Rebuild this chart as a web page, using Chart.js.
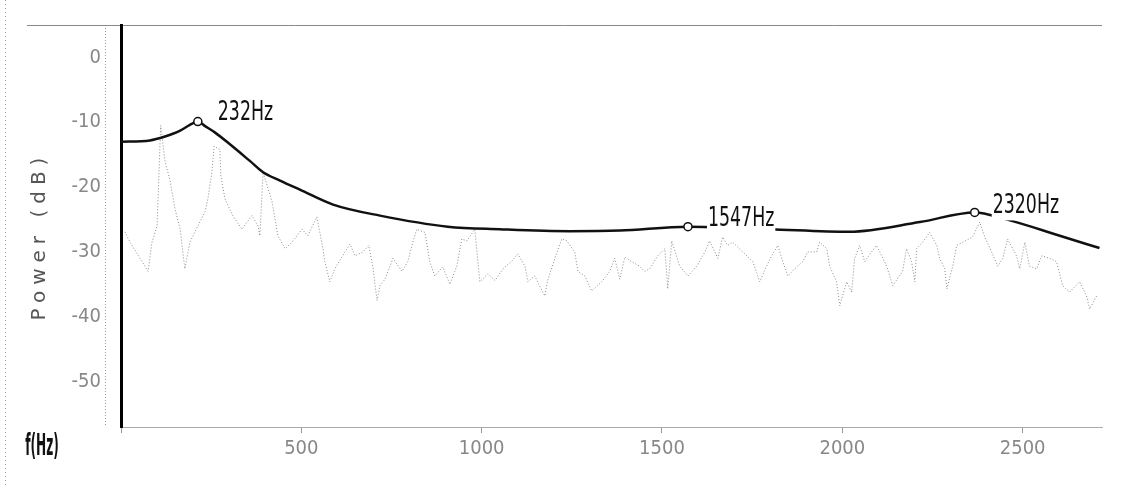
<!DOCTYPE html>
<html>
<head>
<meta charset="utf-8">
<script src="https://cdn.jsdelivr.net/npm/chart.js@4"></script>
<style>
  html, body { margin: 0; padding: 0; background: #fff; }
  #wrap { width: 1125px; height: 486px; position: relative; }
</style>
</head>
<body>
<div id="wrap"><canvas id="spectrum"></canvas></div>
<script>
// envelope (black curve) - frequency in Hz, power in dB
const envelopeHz = [0, 80, 122, 164, 191, 213, 233, 261, 302, 358, 394, 441, 496, 588, 718, 906, 1050, 1244, 1383, 1572, 1799, 2020, 2215, 2367, 2450, 2603, 2713];
const envelopeDb = [-13.0, -12.8, -12.2, -11.3, -10.4, -9.9, -10.6, -11.6, -13.4, -16.0, -17.7, -19.0, -20.4, -22.7, -24.4, -26.1, -26.5, -26.8, -26.7, -26.1, -26.5, -26.9, -25.4, -23.9, -24.9, -27.5, -29.4];

// marked peaks on the envelope
const peakHz = [213, 1572, 2367];
const peakDb = [-9.9, -26.1, -23.9];
const peakLabels = ['232Hz', '1547Hz', '2320Hz'];

// raw spectrum (grey dotted trace)
const noiseHz = [
  11, 25, 53, 75, 86, 100, 110, 122, 136, 150,
  164, 177, 191, 213, 233, 241, 252, 258, 274, 277,
  288, 310, 335, 363, 380, 385, 394, 419, 435, 455,
  474, 502, 518, 543, 560, 565, 579, 593, 621, 635,
  649, 671, 687, 698, 710, 718, 732, 754, 779, 795,
  809, 820, 843, 856, 870, 892, 912, 931, 945, 959,
  981, 987, 995, 1017, 1037, 1059, 1084, 1100, 1120, 1128,
  1147, 1175, 1183, 1203, 1222, 1236, 1258, 1267, 1286, 1305,
  1333, 1355, 1369, 1383, 1397, 1416, 1438, 1452, 1466, 1488,
  1508, 1516, 1527, 1549, 1572, 1596, 1619, 1632, 1655, 1668,
  1682, 1696, 1724, 1752, 1771, 1790, 1804, 1821, 1835, 1849,
  1868, 1890, 1904, 1929, 1937, 1957, 1965, 1984, 1993, 2012,
  2026, 2034, 2048, 2062, 2081, 2095, 2123, 2140, 2167, 2178,
  2192, 2201, 2206, 2223, 2242, 2262, 2270, 2284, 2290, 2306,
  2317, 2334, 2361, 2381, 2395, 2414, 2431, 2445, 2458, 2483,
  2492, 2506, 2519, 2539, 2553, 2575, 2594, 2611, 2630, 2658,
  2677, 2686, 2705
];
const noiseDb = [
  -26.9, -28.5, -31.0, -33.0, -28.5, -26.0, -10.5, -16.0, -19.0, -23.4,
  -26.5, -32.6, -28.5, -26.0, -23.8, -21.8, -17.7, -13.7, -14.2, -18.3,
  -21.8, -24.4, -26.5, -24.4, -26.0, -27.5, -17.7, -22.3, -27.5, -29.5,
  -28.5, -26.5, -27.5, -24.6, -29.5, -31.5, -34.6, -32.6, -30.0, -28.8,
  -30.6, -30.0, -29.0, -32.2, -37.5, -35.2, -34.2, -31.0, -33.0, -31.5,
  -28.5, -26.5, -27.0, -31.5, -33.7, -32.3, -35.0, -32.2, -28.0, -28.3,
  -26.5, -30.0, -34.6, -33.4, -34.4, -32.6, -31.4, -30.3, -32.2, -34.6,
  -33.7, -36.8, -34.4, -31.0, -28.0, -28.3, -30.0, -33.0, -33.7, -36.0,
  -34.6, -33.0, -31.0, -34.2, -30.8, -31.5, -32.2, -33.0, -32.6, -30.6,
  -29.5, -35.7, -28.3, -32.2, -33.7, -32.2, -30.0, -28.3, -31.0, -27.7,
  -29.0, -28.5, -30.0, -31.5, -34.6, -32.2, -30.6, -29.0, -31.5, -33.7,
  -32.6, -31.5, -30.0, -30.0, -28.5, -29.5, -32.2, -34.6, -38.3, -34.6,
  -36.2, -31.0, -29.0, -31.5, -30.0, -29.0, -32.2, -35.2, -33.0, -29.5,
  -31.5, -34.6, -29.5, -28.5, -27.0, -29.0, -31.0, -32.6, -35.7, -32.2,
  -29.0, -28.5, -27.7, -25.4, -27.7, -30.0, -32.2, -31.0, -28.0, -30.6,
  -32.6, -28.5, -32.2, -32.6, -30.6, -31.0, -31.5, -35.2, -36.2, -34.6,
  -36.8, -38.8, -36.8
];

// axis ranges and tick values
const xMin = 0, xMax = 2720;
const xTicks = [0, 500, 1000, 1500, 2000, 2500];
const yMin = -57, yMax = 5;
const yTicks = [-50, -40, -30, -20, -10, 0];

const narrow = '"Liberation Sans Narrow", "DejaVu Sans Condensed", sans-serif';
const tickFont = { family: narrow, size: 20 };

// frame lines, axis titles and peak labels
const decorations = {
  id: 'decorations',
  beforeDraw(chart) {
    const ctx = chart.ctx;
    const area = chart.chartArea;
    ctx.save();
    ctx.strokeStyle = '#9a9a9a';
    ctx.lineWidth = 1;
    ctx.setLineDash([1, 3]);
    ctx.beginPath();
    ctx.moveTo(5.5, 0);
    ctx.lineTo(5.5, chart.height);
    ctx.stroke();
    ctx.setLineDash([1, 2]);
    ctx.beginPath();
    ctx.moveTo(105.5, area.top);
    ctx.lineTo(105.5, area.bottom);
    ctx.stroke();
    ctx.setLineDash([]);
    ctx.strokeStyle = '#8a8a8a';
    ctx.beginPath();
    ctx.moveTo(27, area.top + 0.5);
    ctx.lineTo(area.right, area.top + 0.5);
    ctx.stroke();

    // y title
    ctx.translate(40, 236);
    ctx.rotate(-Math.PI / 2);
    ctx.font = '20px "DejaVu Sans", sans-serif';
    ctx.letterSpacing = '6px';
    ctx.fillStyle = '#555';
    ctx.textAlign = 'center';
    ctx.textBaseline = 'middle';
    ctx.fillText('Power (dB)', 0, 0);
    ctx.restore();

    // x title
    ctx.save();
    ctx.font = 'bold 30px ' + narrow;
    ctx.fillStyle = '#111';
    ctx.textAlign = 'center';
    ctx.textBaseline = 'middle';
    ctx.translate(42, 447);
    ctx.scale(0.45, 1);
    ctx.fillText('f(Hz)', 0, 0);
    ctx.restore();
  },
  afterDatasetsDraw(chart) {
    const ctx = chart.ctx;
    const xs = chart.scales.x, ys = chart.scales.y;
    const offsets = [[20, -9], [20, -8], [18, -6]];
    const sx = 0.715;
    ctx.save();
    ctx.font = '27px ' + narrow;
    ctx.textBaseline = 'middle';
    peakLabels.forEach((txt, i) => {
      const px = xs.getPixelForValue(peakHz[i]) + offsets[i][0];
      const py = ys.getPixelForValue(peakDb[i]) + offsets[i][1];
      const w = ctx.measureText(txt).width * sx;
      ctx.fillStyle = '#fff';
      ctx.fillRect(px - 1, py - 12, w + 2, 26);
      ctx.save();
      ctx.translate(px, py);
      ctx.scale(sx, 1);
      ctx.fillStyle = '#111';
      ctx.fillText(txt, 0, 0);
      ctx.restore();
    });
    ctx.restore();
  }
};

new Chart(document.getElementById('spectrum'), {
  type: 'line',
  data: {
    datasets: [
      {
        label: 'peaks',
        data: peakHz.map((x, i) => ({ x: x, y: peakDb[i] })),
        showLine: false,
        pointRadius: 4,
        pointBackgroundColor: '#fff',
        pointBorderColor: '#111',
        pointBorderWidth: 1.5,
        order: 0
      },
      {
        label: 'envelope',
        data: envelopeHz.map((x, i) => ({ x: x, y: envelopeDb[i] })),
        borderColor: '#111',
        borderWidth: 2.5,
        pointRadius: 0,
        cubicInterpolationMode: 'monotone',
        order: 1
      },
      {
        label: 'spectrum',
        data: noiseHz.map((x, i) => ({ x: x, y: noiseDb[i] })),
        borderColor: 'rgba(100,100,100,0.75)',
        borderWidth: 1,
        borderDash: [1, 2],
        pointRadius: 0,
        tension: 0,
        order: 2
      }
    ]
  },
  plugins: [decorations],
  options: {
    responsive: true,
    maintainAspectRatio: false,
    animation: false,
    events: [],
    layout: { padding: { left: 0, top: 25, right: 23, bottom: 0 } },
    plugins: {
      legend: { display: false },
      tooltip: { enabled: false }
    },
    scales: {
      x: {
        type: 'linear',
        min: xMin,
        max: xMax,
        afterFit(scale) {
          scale.height = 59;
          scale.paddingLeft = 0;
          scale.paddingRight = 0;
        },
        afterBuildTicks(scale) {
          scale.ticks = xTicks.map(v => ({ value: v }));
        },
        ticks: {
          autoSkip: false,
          color: '#888',
          font: tickFont,
          padding: 4,
          maxRotation: 0,
          callback: v => (v > 0 ? String(v) : '')
        },
        grid: { drawOnChartArea: false, drawTicks: true, tickLength: 6, color: '#999' },
        border: { display: true, color: '#aaa', width: 1, dash: [2, 2] }
      },
      y: {
        type: 'linear',
        min: yMin,
        max: yMax,
        afterFit(scale) {
          scale.width = 121;
          scale.paddingTop = 0;
          scale.paddingBottom = 0;
        },
        afterBuildTicks(scale) {
          scale.ticks = yTicks.map(v => ({ value: v }));
        },
        ticks: { autoSkip: false, color: '#888', font: tickFont, padding: 20 },
        grid: { drawOnChartArea: false, drawTicks: false },
        border: { display: true, color: '#000', width: 3 }
      }
    }
  }
});
</script>
</body>
</html>
